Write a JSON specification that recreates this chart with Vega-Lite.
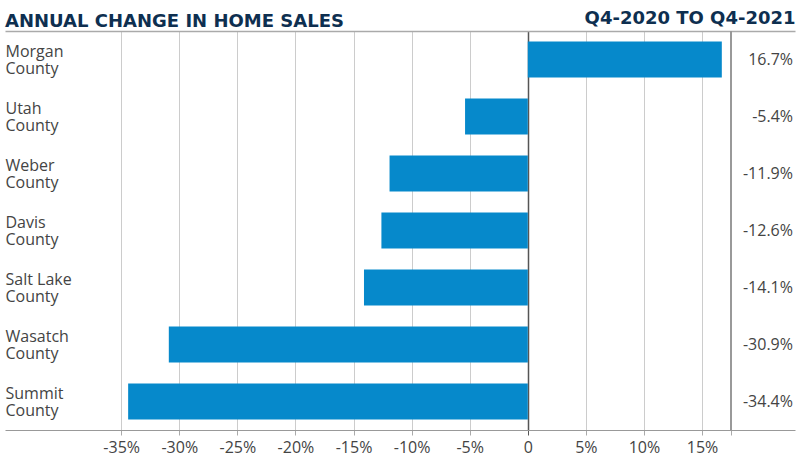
{
  "$schema": "https://vega.github.io/schema/vega-lite/v6.json",
  "width": 790,
  "height": 399,
  "autosize": {"type": "none"},
  "padding": {"left": 5, "right": 5, "top": 31, "bottom": 40},
  "background": "white",
  "title": {
    "text": "ANNUAL CHANGE IN HOME SALES",
    "anchor": "start",
    "frame": "group",
    "font": "DejaVu Sans",
    "fontSize": 18,
    "fontWeight": "bold",
    "color": "#0e2f50",
    "offset": -22
  },
  "data": {
    "values": [
      {"county": "Morgan County", "change": 0.167},
      {"county": "Utah County", "change": -0.054},
      {"county": "Weber County", "change": -0.119},
      {"county": "Davis County", "change": -0.126},
      {"county": "Salt Lake County", "change": -0.141},
      {"county": "Wasatch County", "change": -0.309},
      {"county": "Summit County", "change": -0.344}
    ]
  },
  "config": {
    "view": {"stroke": null},
    "font": "Open Sans",
    "locale": {"number": {"decimal": ".", "thousands": ",", "grouping": [3], "currency": ["$", ""], "minus": "-"}},
    "axisTop": {"labels": false, "ticks": false, "grid": false}
  },
  "layer": [
    {
      "mark": {"type": "bar", "color": "#0689CB"},
      "encoding": {
        "y": {
          "field": "county",
          "type": "nominal",
          "sort": null,
          "scale": {"paddingInner": 0.37, "paddingOuter": 0.185},
          "axis": {
            "orient": "left",
            "title": null,
            "domain": false,
            "ticks": false,
            "labelAlign": "left",
            "labelBaseline": "middle",
            "labelPadding": 0,
            "labelOffset": -8,
            "labelFontSize": 16,
            "labelColor": "#444444",
            "labelLineHeight": 17,
            "labelExpr": "[replace(datum.label, ' County', ''), 'County']"
          }
        },
        "x": {
          "field": "change",
          "type": "quantitative",
          "scale": {"domain": [-0.45, 0.23], "nice": false, "zero": false},
          "axis": {
            "orient": "bottom",
            "title": null,
            "values": [-0.35, -0.3, -0.25, -0.2, -0.15, -0.1, -0.05, 0, 0.05, 0.1, 0.15, 0.175],
            "labelExpr": "datum.value == 0 ? '0' : (abs(datum.value - 0.175) < 0.001 ? '' : format(datum.value, '.0%'))",
            "labelFontSize": 16,
            "labelColor": "#444444",
            "labelPadding": 4,
            "domainColor": "#999999",
            "tickColor": {"condition": {"test": "datum.value == 0", "value": "#555555"}, "value": "#aaaaaa"},
            "tickSize": 5,
            "grid": true,
            "gridColor": {"condition": {"test": "datum.value == 0", "value": "#555555"}, "value": "#cccccc"},
            "gridWidth": {"condition": {"test": "datum.value == 0", "value": 1.5}, "value": 1}
          }
        }
      }
    },
    {
      "mark": {"type": "rule", "color": "#999999", "strokeWidth": 1.5},
      "encoding": {
        "x": {"datum": 0.175, "type": "quantitative", "axis": null}
      }
    },
    {
      "mark": {"type": "text", "align": "right", "baseline": "middle", "dx": -2, "fontSize": 16, "color": "#444444"},
      "encoding": {
        "y": {"field": "county", "type": "nominal", "sort": null},
        "x": {"datum": 0.23, "type": "quantitative", "axis": null},
        "text": {"field": "change", "type": "quantitative", "format": ".1%"}
      }
    },
    {
      "mark": {"type": "rule", "opacity": 0},
      "encoding": {
        "x": {
          "datum": 0,
          "type": "quantitative",
          "axis": {
            "orient": "top",
            "title": "Q4-2020 TO Q4-2021",
            "titleAnchor": "end",
            "titleAlign": "right",
            "titleBaseline": "alphabetic",
            "titlePadding": 8,
            "titleFont": "DejaVu Sans",
            "titleFontSize": 18,
            "titleFontWeight": "bold",
            "titleColor": "#0e2f50",
            "labels": false,
            "ticks": false,
            "grid": false,
            "domainColor": "#aaaaaa",
            "domainWidth": 1.5
          }
        }
      }
    }
  ]
}
